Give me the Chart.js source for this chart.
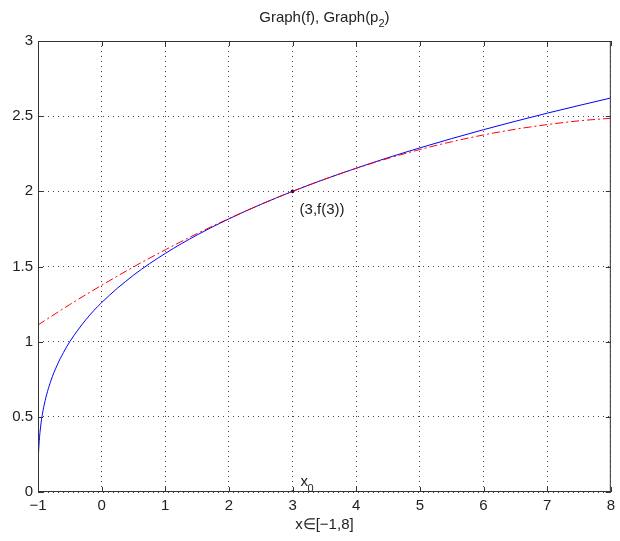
<!DOCTYPE html>
<html>
<head>
<meta charset="utf-8">
<script src="https://cdn.jsdelivr.net/npm/chart.js@4.4.0/dist/chart.umd.min.js"></script>
<style>
html, body { margin: 0; padding: 0; background: #fff; }
#wrap { width: 620px; height: 541px; }
</style>
</head>
<body>
<div id="wrap"><canvas id="grafik"></canvas></div>
<script>
// --- data ---
const xF = [-1, -0.999, -0.995, -0.99, -0.98, -0.95, -0.9, -0.8, -0.7, -0.6, -0.5, -0.25, 0, 0.5, 1, 1.5, 2, 2.5, 3, 3.5, 4, 4.5, 5, 5.5, 6, 6.5, 7, 7.5, 8];
const yF = [0, 0.126, 0.215, 0.271, 0.342, 0.464, 0.585, 0.737, 0.843, 0.928, 1.0, 1.145, 1.26, 1.442, 1.587, 1.71, 1.817, 1.913, 2.0, 2.08, 2.154, 2.224, 2.289, 2.351, 2.41, 2.466, 2.52, 2.571, 2.621];

const xP = [-1, -0.5, 0, 0.5, 1, 1.5, 2, 2.5, 3, 3.5, 4, 4.5, 5, 5.5, 6, 6.5, 7, 7.5, 8];
const yP = [1.111, 1.247, 1.375, 1.497, 1.611, 1.719, 1.819, 1.913, 2.0, 2.08, 2.153, 2.219, 2.278, 2.33, 2.375, 2.413, 2.444, 2.469, 2.486];

const xPunkt = [3, 3];
const yPunkt = [2, 0];

const xTicks = [-1, 0, 1, 2, 3, 4, 5, 6, 7, 8];
const yTicks = [0, 0.5, 1, 1.5, 2, 2.5, 3];

const FONT = '"Liberation Sans", Arial, sans-serif';
const TEXT = '#222';

function pts(xs, ys) {
    return xs.map((x, i) => ({ x: x, y: ys[i] }));
}

// box, inward ticks, title and the small labels
const extras = {
    id: 'extras',
    afterDraw(chart) {
        const c = chart.ctx;
        const a = chart.chartArea;
        const sx = chart.scales.x, sy = chart.scales.y;
        c.save();
        c.strokeStyle = '#333';
        c.lineWidth = 1;
        c.setLineDash([]);
        c.strokeRect(a.left + 0.5, a.top + 0.5, a.right - a.left - 1, a.bottom - a.top - 1);

        // tick marks pointing inward
        c.beginPath();
        sx.ticks.forEach(t => {
            const px = Math.round(sx.getPixelForValue(t.value)) + 0.5;
            c.moveTo(px, a.bottom); c.lineTo(px, a.bottom - 5);
            c.moveTo(px, a.top); c.lineTo(px, a.top + 5);
        });
        sy.ticks.forEach(t => {
            const py = Math.round(sy.getPixelForValue(t.value)) + 0.5;
            c.moveTo(a.left, py); c.lineTo(a.left + 5, py);
            c.moveTo(a.right, py); c.lineTo(a.right - 5, py);
        });
        c.stroke();

        c.fillStyle = TEXT;
        c.textBaseline = 'alphabetic';

        // title with subscript
        const mid = (a.left + a.right) / 2;
        const big = '15px ' + FONT, small = '11px ' + FONT;
        const t1 = 'Graph(f), Graph(p';
        const t3 = ')';
        c.font = small;
        const w2 = c.measureText('2').width;
        c.font = big;
        const w1 = c.measureText(t1).width, w3 = c.measureText(t3).width;
        let tx = mid - (w1 + w2 + w3) / 2;
        c.textAlign = 'left';
        c.fillText(t1, tx, 22);
        c.font = small;
        c.fillText('2', tx + w1, 27);
        c.font = big;
        c.fillText(t3, tx + w1 + w2, 22);

        // x axis title
        c.textAlign = 'center';
        c.fillText('x\u2208[\u22121,8]', mid, 529);

        // labels near x0
        const px3 = sx.getPixelForValue(3);
        c.textAlign = 'left';
        c.fillText('x', px3 + 8, 486);
        c.font = small;
        c.fillText('0', px3 + 15, 492);
        c.font = big;
        c.fillText('(3,f(3))', px3 + 7, sy.getPixelForValue(2) + 23);
        c.restore();
    }
};

new Chart(document.getElementById('grafik').getContext('2d'), {
    type: 'scatter',
    data: {
        datasets: [
            {
                label: 'p2',
                data: pts(xP, yP),
                showLine: true,
                borderColor: '#ff0000',
                borderWidth: 1,
                borderDash: [8, 3, 2, 3],
                pointRadius: 0,
                cubicInterpolationMode: 'monotone'
            },
            {
                label: 'f',
                data: pts(xF, yF),
                showLine: true,
                borderColor: '#0000ff',
                borderWidth: 1,
                pointRadius: 0,
                cubicInterpolationMode: 'monotone'
            },
            {
                label: 'punkt',
                data: pts(xPunkt, yPunkt),
                showLine: false,
                pointRadius: 1.8,
                backgroundColor: '#000',
                borderColor: '#000',
                borderWidth: 0
            }
        ]
    },
    options: {
        responsive: true,
        maintainAspectRatio: false,
        animation: false,
        layout: { padding: { top: 41, right: 8, left: 0, bottom: 0 } },
        plugins: { legend: { display: false }, tooltip: { enabled: false }, title: { display: false } },
        scales: {
            x: {
                type: 'linear', min: -1, max: 8,
                afterBuildTicks: s => { s.ticks = xTicks.map(v => ({ value: v })); },
                afterFit: s => { s.height = 49; },
                grid: { color: '#444', lineWidth: 1, drawTicks: false },
                border: { display: false, dash: [1, 4] },
                ticks: {
                    padding: 5, color: TEXT, maxRotation: 0,
                    font: { family: FONT, size: 15 },
                    callback: v => v < 0 ? '\u2212' + Math.abs(v) : String(v)
                }
            },
            y: {
                type: 'linear', min: 0, max: 3,
                afterBuildTicks: s => { s.ticks = yTicks.map(v => ({ value: v })); },
                afterFit: s => { s.width = 38; },
                grid: { color: '#444', lineWidth: 1, drawTicks: false },
                border: { display: false, dash: [1, 4] },
                ticks: {
                    padding: 5, color: TEXT,
                    font: { family: FONT, size: 15 },
                    callback: v => String(v)
                }
            }
        }
    },
    plugins: [extras]
});
</script>
</body>
</html>
